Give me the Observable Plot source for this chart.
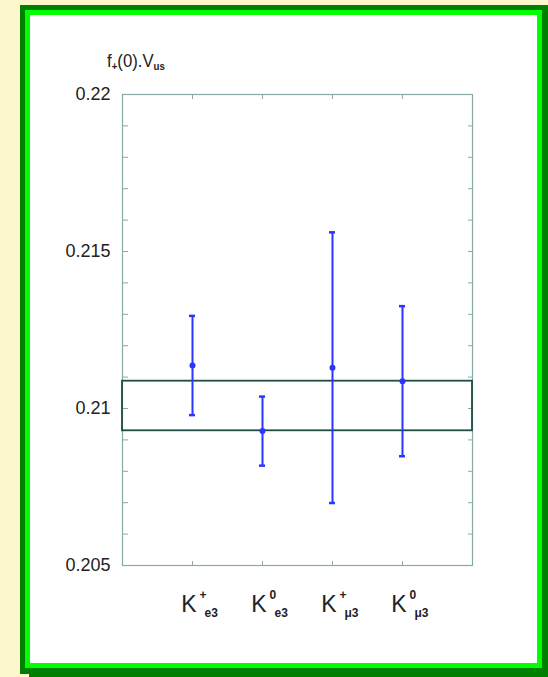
<!DOCTYPE html>
<html>
<head>
<meta charset="utf-8">
<script src="https://cdn.jsdelivr.net/npm/d3@7"></script>
<script src="https://cdn.jsdelivr.net/npm/@observablehq/plot@0.6"></script>
<style>
html, body { margin: 0; padding: 0; background: #fcf8cc; width: 548px; height: 677px; overflow: hidden; }
#shadow { position: absolute; left: 29px; top: 8px; width: 519px; height: 669px; background: #008000; }
#outer { position: absolute; left: 20px; top: 5px; width: 528px; height: 669px; background: #008000; }
#inner { position: absolute; left: 25px; top: 10px; width: 507px; height: 648px; border: 5px solid #00ff00; background: #fff; }
#chart { position: absolute; left: 0; top: 0; }
#title { position: absolute; left: 107px; top: 52px; font-family: "Liberation Sans", Arial, sans-serif; font-size: 19px; line-height: 18px; color: #222; white-space: nowrap; transform: scaleX(0.88); transform-origin: 0 0; }
#title .s { position: relative; top: 3px; font-size: 11px; font-weight: bold; }
</style>
</head>
<body>
<div id="shadow"></div>
<div id="outer"></div>
<div id="inner"></div>
<div id="chart"></div>
<div id="title">f<span class="s">+</span>(0).V<span class="s">us</span></div>
<script>
// ---- data ----
const categories = ["K+e3", "K0e3", "K+μ3", "K0μ3"];
const labelMain = ["K", "K", "K", "K"];
const labelSup = ["+", "0", "+", "0"];
const labelSub = ["e3", "e3", "μ3", "μ3"];
const values = [0.21137, 0.20928, 0.21130, 0.21087];
const errors = [0.00158, 0.00110, 0.00431, 0.00239];
const bandLow = [0.20929];
const bandHigh = [0.21087];
const yMajorTicks = [0.205, 0.21, 0.215, 0.22];
const yTickLabels = ["0.205", "0.21", "0.215", "0.22"];
const yMinorTicks = [0.205, 0.206, 0.207, 0.208, 0.209, 0.210, 0.211, 0.212, 0.213, 0.214, 0.215, 0.216, 0.217, 0.218, 0.219, 0.220];

const points = categories.map((c, i) => ({
  cat: c, main: labelMain[i], sup: labelSup[i], sub: labelSub[i],
  v: values[i], lo: values[i] - errors[i], hi: values[i] + errors[i]
}));
const band = bandLow.map((lo, i) => ({lo, hi: bandHigh[i]}));

const blue = "#2a35ff";

const chart = Plot.plot({
  width: 548,
  height: 677,
  marginLeft: 122,
  marginRight: 76,
  marginTop: 94,
  marginBottom: 112,
  style: {background: "transparent", fontFamily: "'Liberation Sans', Arial, sans-serif", overflow: "visible"},
  x: {type: "band", domain: categories, paddingInner: 0.91, paddingOuter: 0.955, axis: null},
  y: {domain: [0.205, 0.22], axis: null},
  marks: [
    Plot.frame({stroke: "#86a8a6", strokeWidth: 1.2}),
    Plot.axisY(yMinorTicks, {anchor: "left", tickSize: -6, tickFormat: () => "", label: null, stroke: "#8fa9a7"}),
    Plot.axisY(yMinorTicks, {anchor: "right", tickSize: -5, tickFormat: () => "", label: null, stroke: "#8fa9a7"}),
    Plot.axisY(yMajorTicks, {anchor: "left", tickSize: 0, tickPadding: 12, fontSize: 18, fill: "#222",
      tickFormat: d => yTickLabels[yMajorTicks.indexOf(d)], label: null}),
    Plot.axisX({anchor: "bottom", tickSize: -4, tickFormat: () => "", label: null, stroke: "#8fa9a7"}),
    Plot.axisX({anchor: "top", tickSize: -4, tickFormat: () => "", label: null, stroke: "#8fa9a7"}),
    Plot.rect(band, {y1: "lo", y2: "hi", fill: "none", stroke: "#1e4d45", strokeWidth: 1.8}),
    Plot.ruleX(points, {x: "cat", y1: "lo", y2: "hi", stroke: blue, strokeWidth: 2}),
    Plot.tickY(points, {x: "cat", y: "lo", stroke: blue, strokeWidth: 2.5}),
    Plot.tickY(points, {x: "cat", y: "hi", stroke: blue, strokeWidth: 2.5}),
    Plot.dot(points, {x: "cat", y: "v", r: 3, fill: blue, stroke: "none"}),
    Plot.text(points, {x: "cat", text: "main", frameAnchor: "bottom", lineAnchor: "middle", textAnchor: "end",
      dx: 4, dy: 39, fontSize: 23, fill: "#222", ariaLabel: "klabel"}),
    Plot.text(points, {x: "cat", text: "sup", frameAnchor: "bottom", lineAnchor: "middle", textAnchor: "start",
      dx: 7, dy: 30, fontSize: 12, fontWeight: "bold", fill: "#222"}),
    Plot.text(points, {x: "cat", text: "sub", frameAnchor: "bottom", lineAnchor: "middle", textAnchor: "start",
      dx: 12, dy: 48, fontSize: 12, fontWeight: "bold", fill: "#222"})
  ]
});

// condense the big "K" glyphs horizontally around their anchor
const s = 0.8;
d3.select(chart).selectAll("g[aria-label='klabel'] text").each(function() {
  const el = d3.select(this);
  const tr = el.attr("transform");
  if (tr) {
    el.attr("transform", tr + ` scale(${s},1)`);
  } else {
    const x = +el.attr("x") || 0;
    el.attr("transform", `translate(${x * (1 - s)},0) scale(${s},1)`);
  }
});

document.getElementById("chart").appendChild(chart);
</script>
</body>
</html>
